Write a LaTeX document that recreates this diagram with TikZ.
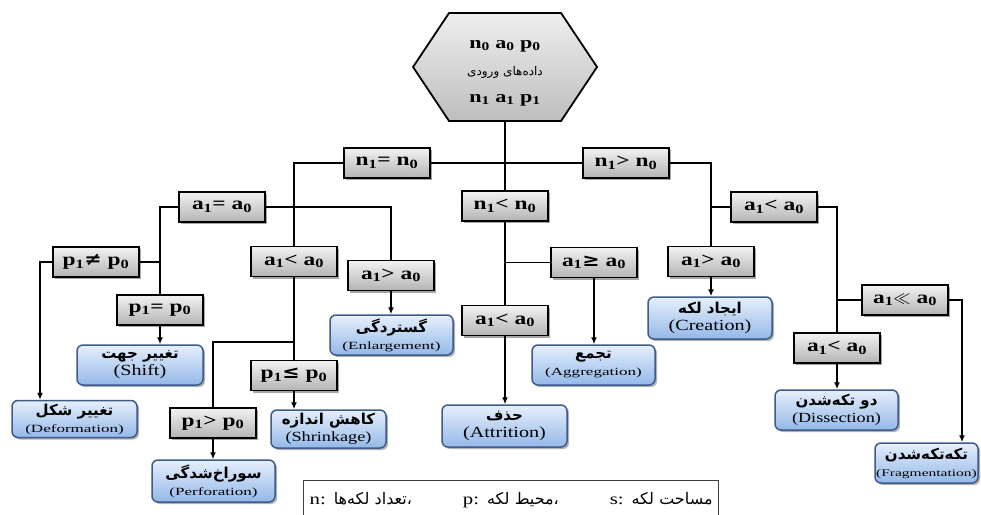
\documentclass[tikz,border=0pt]{standalone}
\usepackage{fontspec}
\setmainfont[FakeStretch=1.3]{Liberation Serif}
\newfontfamily\smallwide[FakeStretch=1.55]{Liberation Serif}
\newfontfamily\persfont[Script=Arabic]{DejaVu Sans}
\newfontfamily\symfont[FakeStretch=1.15]{DejaVu Serif}
\TeXXeTstate=1
\usetikzlibrary{shadows,arrows.meta,calc}
\definecolor{condTop}{RGB}{242,242,242}
\definecolor{condBot}{RGB}{180,180,180}
\definecolor{hexTop}{RGB}{238,238,238}
\definecolor{hexBot}{RGB}{190,190,190}
\definecolor{resTop}{RGB}{230,239,252}
\definecolor{resBot}{RGB}{148,184,232}
\definecolor{resBorder}{RGB}{62,92,135}
\newcommand{\pers}[1]{{\persfont\bfseries\beginR#1\endR}}
\newcommand{\rel}[2]{#1\textsubscript{1}#2 #1\textsubscript{0}}
\newcommand{\resbig}[2]{\pers{#1}\\[1pt]{\fontsize{15.5}{16}\selectfont (#2)}}
\newcommand{\ressmall}[2]{\pers{#1}\\[1pt]{\smallwide\fontsize{11}{11}\selectfont (#2)}}
\tikzset{
  cond/.style={draw=black, line width=1.8pt, top color=condTop, bottom color=condBot,
    minimum width=86pt, minimum height=30pt, inner sep=1pt,
    font=\fontsize{18}{20}\selectfont\bfseries,
    drop shadow={shadow xshift=2pt, shadow yshift=-2pt, opacity=0.35, fill=black}},
  res/.style={draw=resBorder, line width=1.5pt, rounded corners=6pt,
    top color=resTop, bottom color=resBot, minimum width=123pt, minimum height=40pt,
    align=center, inner sep=1pt, font=\fontsize{15}{16}\selectfont,
    drop shadow={shadow xshift=2pt, shadow yshift=-2pt, opacity=0.3, fill=black}},
  conn/.style={line width=1.8pt, draw=black},
  arr/.style={conn, -{Latex[length=7pt,width=6pt]}},
}
\begin{document}
\begin{tikzpicture}[x=1pt,y=-1pt]
\clip (0,0) rectangle (981,514);
\fill[white] (0,0) rectangle (981,514);
% hexagon
\shade[draw=black, line width=1.8pt, top color=hexTop, bottom color=hexBot]
  (413,67) -- (449,13) -- (561,13) -- (597,67) -- (561,121) -- (449,121) -- cycle;
\node (hex) at (505,71) [minimum width=184pt, minimum height=100pt, inner sep=0pt, align=center,
  font=\fontsize{17}{19}\selectfont\bfseries]
  {\rule{0pt}{12pt}n\textsubscript{0} a\textsubscript{0} p\textsubscript{0}\\[8pt]
   {\persfont\mdseries\fontsize{12}{12}\selectfont\beginR داده^^^^200cهای ورودی\endR}\\[8pt]
   n\textsubscript{1} a\textsubscript{1} p\textsubscript{1}};
% conditions
\node[cond] (n1eq)  at (387,163)   {\rel{n}{=}};
\node[cond] (n1gt)  at (626,163)   {\rel{n}{>}};
\node[cond] (n1lt)  at (505,206)   {\rel{n}{<}};
\node[cond] (a1eq)  at (222,207)   {\rel{a}{=}};
\node[cond] (a1ltL) at (294,261.5) {\rel{a}{<}};
\node[cond] (a1gtL) at (391,275.5) {\rel{a}{>}};
\node[cond] (p1ne)  at (96,262)    {\rel{p}{{\symfont\bfseries ≠}}};
\node[cond] (p1eq)  at (160,310)   {\rel{p}{=}};
\node[cond] (p1le)  at (294,375.5) {\rel{p}{{\symfont\bfseries ≤}}};
\node[cond] (p1gt)  at (213,423)   {\rel{p}{>}};
\node[cond] (a1ge)  at (594,262.5) {\rel{a}{{\symfont\bfseries ≥}}};
\node[cond] (a1ltM) at (505,320.5) {\rel{a}{<}};
\node[cond] (a1gtR) at (711,261.5) {\rel{a}{>}};
\node[cond] (a1ltR) at (774,207)   {\rel{a}{<}};
\node[cond] (a1ll)  at (905,300)   {\rel{a}{$\ll$}};
\node[cond] (a1ltR2) at (837,348)  {\rel{a}{<}};
% results
\node[res, minimum width=126pt] (shift) at (140,365) {\resbig{تغییر جهت}{Shift}};
\node[res, minimum width=125pt, minimum height=37pt] (deform) at (74.5,419) {\ressmall{تغییر شکل}{Deformation}};
\node[res] (enlarge) at (391.5,335) {\ressmall{گستردگی}{Enlargement}};
\node[res, minimum width=115pt, minimum height=38pt] (shrink) at (328.5,429) {\pers{کاهش اندازه}\\[1pt]{\fontsize{14}{15}\selectfont (Shrinkage)}};
\node[res, minimum height=42pt] (perf) at (213.5,481) {\ressmall{سوراخ^^^^200cشدگی}{Perforation}};
\node[res, minimum width=125pt, minimum height=42pt] (attr) at (504.5,426) {\resbig{حذف}{Attrition}};
\node[res] (aggr) at (593.5,365) {\ressmall{تجمع}{Aggregation}};
\node[res, minimum width=124pt, minimum height=42pt] (creat) at (710,318) {\resbig{ایجاد لکه}{Creation}};
\node[res] (dissec) at (836.5,410) {\pers{دو تکه^^^^200cشدن}\\[1pt]{\fontsize{14}{15}\selectfont (Dissection)}};
\node[res, minimum width=103pt] (frag) at (926.5,463) {\pers{تکه^^^^200cتکه^^^^200cشدن}\\[1pt]{\smallwide\fontsize{10}{10}\selectfont (Fragmentation)}};
% note
\node[draw=black!75, line width=1.2pt, fill=white, anchor=north west, minimum width=415pt,
  minimum height=40pt, text width=403pt, align=left, inner sep=5pt,
  font=\fontsize{16}{17}\selectfont] (note) at (303,480)
  {n: {\persfont\fontsize{16}{17}\selectfont\beginR تعداد لکه^^^^200cها\endR}{\persfont ،}\hfill
   p: {\persfont\fontsize{16}{17}\selectfont\beginR محیط لکه\endR}{\persfont ،}\hfill
   s: {\persfont\fontsize{16}{17}\selectfont\beginR مساحت لکه\endR}\\[10pt]};
% connectors
\draw[conn] (hex.south) -- (n1lt.north);
\draw[conn] (n1eq.east) -- (n1gt.west);
\draw[conn] (n1eq.west) -| (a1ltL.north);
\draw[conn] (n1gt.east) -| (a1gtR.north);
\draw[conn] (a1ltR.west) -- (a1ltR.west -| a1gtR.north);
\draw[conn] (n1lt.south) -- (a1ltM.north);
\draw[arr] (a1ltM.south) -- (a1ltM.south |- attr.north);
\draw[conn] (a1ge.west) -- (a1ge.west -| n1lt.south);
\draw[arr] (a1ge.south) -- (a1ge.south |- aggr.north);
\draw[conn] (a1eq.east) -| (a1gtL.north);
\draw[conn] (a1eq.west) -| (p1eq.north);
\draw[conn] (p1ne.east) -- (p1ne.east -| p1eq.north);
\draw[arr] (p1ne.west) -| ([xshift=-34.5pt]deform.north);
\draw[arr] (p1eq.south) -- (p1eq.south |- shift.north);
\draw[conn] (a1ltL.south) -- (p1le.north);
\coordinate (bP) at (294,342);
\draw[conn] (bP) -| (p1gt.north);
\draw[arr] (p1le.south) -- (p1le.south |- shrink.north);
\draw[arr] (p1gt.south) -- (p1gt.south |- perf.north);
\draw[arr] (a1gtL.south) -- (a1gtL.south |- enlarge.north);
\draw[arr] (a1gtR.south) -- (a1gtR.south |- creat.north);
\draw[conn] (a1ltR.east) -| (a1ltR2.north);
\draw[conn] (a1ll.west) -- (a1ll.west -| a1ltR2.north);
\draw[arr] (a1ll.east) -| ([xshift=35.5pt]frag.north);
\draw[arr] (a1ltR2.south) -- (a1ltR2.south |- dissec.north);
\end{tikzpicture}
\end{document}
